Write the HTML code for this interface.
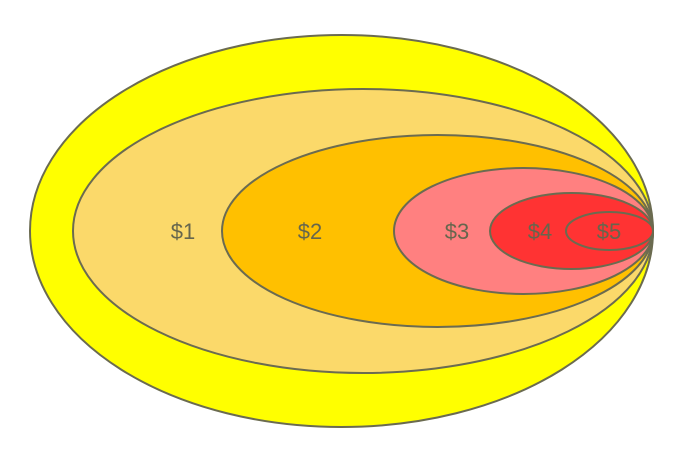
<!DOCTYPE html>
<html><head><meta charset="utf-8"><style>
html,body{margin:0;padding:0;background:#fff;width:674px;height:459px;overflow:hidden}
text{font-family:"Liberation Sans",sans-serif;font-size:22px;fill:#66664d}
</style></head><body>
<svg width="674" height="459">
<g id="g" stroke="#6b6b50" stroke-width="2"></g>
</svg>
<script>
const labels=["","$1","$2","$3","$4","$5"];
const lefts=[30,73,222,394,490,566];
const halfHeights=[196,142,96,63,38,19];
const fills=["#ffff00","#fbd96a","#ffc000","#ff8080","#ff3333","#ff3333"];
const labelX=[0,183,310,457,540,609];
const right=653, cy=231;
const g=document.getElementById('g');
const ns="http://www.w3.org/2000/svg";
lefts.forEach((l,i)=>{
  const e=document.createElementNS(ns,'ellipse');
  
  
  e.setAttribute('cx',(l+right)/2);e.setAttribute('cy',cy);
  e.setAttribute('rx',(right-l)/2);e.setAttribute('ry',halfHeights[i]);
  e.setAttribute('fill',fills[i]);
  g.appendChild(e);
});
const svg=document.querySelector('svg');
labels.forEach((t,i)=>{
  if(!t)return;
  const tx=document.createElementNS(ns,'text');
  
  
  tx.setAttribute('x',labelX[i]);tx.setAttribute('y',cy+8);
  tx.setAttribute('text-anchor','middle');
  tx.textContent=t;svg.appendChild(tx);
});
</script>
</body></html>
